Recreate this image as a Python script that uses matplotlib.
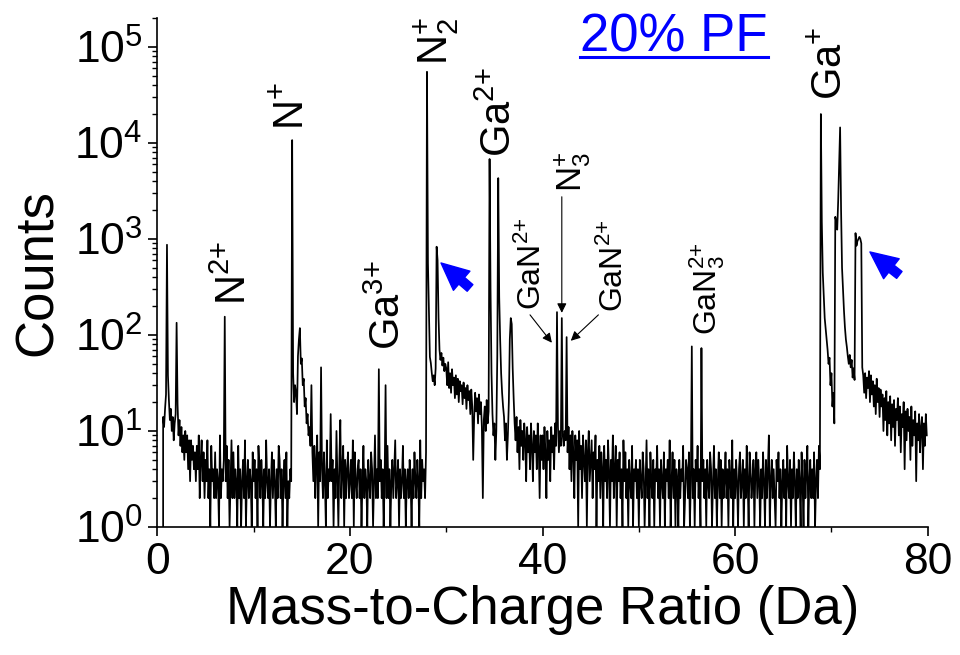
import numpy as np
import matplotlib
matplotlib.use("Agg")
import matplotlib.pyplot as plt
from matplotlib.ticker import LogLocator, MultipleLocator, NullFormatter

plt.rcParams['font.family'] = ['Liberation Sans', 'DejaVu Sans']
plt.rcParams['mathtext.fontset'] = 'custom'
plt.rcParams['mathtext.rm'] = 'Liberation Sans'
plt.rcParams['mathtext.it'] = 'Liberation Sans'
plt.rcParams['mathtext.default'] = 'regular'

# ---------------- data (counts per 0.1 Da bin) ----------------
mz_step = 0.1
counts_00_10 = [0, 0, 0, 0, 0, 0, 14, 11, 17, 24,
                870, 38, 21, 13, 17, 10, 14, 8, 12, 15,
                134, 19, 9, 13, 7, 11, 6, 9, 5, 10,
                6, 9, 4, 8, 3, 8, 5, 7, 4, 6,
                3, 7, 4, 9, 2, 5, 8, 3, 6, 2,
                5, 3, 8, 2, 4, 1, 7, 3, 4, 2,
                6, 2, 4, 3, 1, 9, 2, 4, 3, 5,
                155, 3, 7, 2, 5, 1, 3, 8, 2, 6,
                2, 4, 3, 1, 7, 2, 4, 1, 3, 5,
                2, 8, 1, 3, 5, 2, 4, 3, 1, 6]
counts_10_20 = [3, 5, 2, 4, 1, 7, 4, 2, 5, 3,
                1, 4, 2, 8, 3, 2, 4, 1, 3, 6,
                2, 5, 3, 1, 4, 2, 7, 5, 2, 4,
                1, 3, 5, 2, 6, 1, 3, 2, 4, 3,
                10700, 40, 20, 30, 25, 15, 60, 90, 118, 50,
                57, 30, 35, 18, 22, 12, 15, 9, 11, 7,
                30, 6, 3, 7, 2, 5, 9, 1, 6, 3,
                46, 4, 2, 6, 3, 1, 8, 2, 4, 3,
                15, 3, 5, 1, 4, 2, 10, 3, 1, 5,
                13, 2, 4, 7, 1, 5, 2, 4, 6, 2]
counts_20_30 = [3, 5, 2, 8, 1, 6, 3, 2, 4, 5,
                2, 4, 1, 3, 7, 2, 4, 3, 1, 5,
                3, 2, 6, 4, 1, 3, 9, 2, 4, 2,
                44, 3, 5, 2, 4, 1, 3, 30, 2, 7,
                2, 4, 1, 3, 5, 2, 4, 8, 2, 3,
                5, 1, 4, 2, 3, 7, 2, 4, 1, 3,
                4, 2, 5, 3, 1, 4, 2, 6, 3, 2,
                5, 3, 1, 8, 2, 5, 3, 4, 2, 6,
                55000, 560, 182, 59, 51, 40, 33, 38, 30, 45,
                830, 600, 150, 70, 55, 65, 48, 58, 42, 50]
counts_30_40 = [45, 30, 52, 28, 40, 25, 44, 30, 36, 22,
                38, 24, 35, 20, 33, 26, 30, 19, 32, 22,
                28, 17, 30, 21, 26, 15, 27, 18, 5, 14,
                25, 16, 22, 12, 24, 15, 20, 11, 2, 13,
                18, 10, 21, 12, 16, 6800, 300, 40, 15, 9,
                12, 5, 10, 60, 4300, 250, 89, 40, 25, 18,
                14, 8, 12, 5, 9, 20, 90, 150, 130, 45,
                22, 12, 8, 14, 6, 11, 4, 13, 7, 10,
                5, 12, 8, 3, 11, 6, 9, 4, 12, 7,
                3, 10, 6, 9, 4, 12, 7, 2, 9, 5]
counts_40_50 = [9, 4, 11, 6, 2, 10, 5, 8, 3, 11,
                6, 9, 4, 12, 7, 173, 11, 6, 10, 7,
                150, 9, 7, 10, 8, 95, 6, 11, 4, 9,
                3, 10, 6, 2, 9, 5, 8, 1, 10, 4,
                7, 2, 9, 5, 3, 8, 1, 6, 10, 3,
                5, 8, 2, 6, 4, 9, 1, 5, 3, 7,
                2, 6, 4, 1, 7, 3, 5, 2, 8, 4,
                1, 5, 3, 9, 2, 4, 7, 1, 5, 3,
                6, 2, 4, 1, 8, 3, 6, 2, 4, 1,
                5, 3, 2, 7, 1, 4, 3, 5, 2, 4]
counts_50_60 = [1, 5, 3, 2, 6, 4, 1, 3, 8, 2,
                4, 1, 6, 3, 2, 5, 1, 4, 3, 7,
                2, 4, 1, 5, 3, 2, 6, 1, 4, 3,
                5, 2, 8, 1, 3, 6, 2, 5, 1, 4,
                3, 1, 5, 2, 4, 3, 7, 1, 2, 5,
                4, 2, 6, 1, 3, 76, 2, 4, 1, 5,
                3, 7, 2, 4, 1, 73, 3, 5, 2, 4,
                1, 5, 3, 2, 6, 4, 1, 3, 7, 2,
                4, 1, 3, 6, 2, 5, 1, 4, 2, 3,
                6, 2, 4, 1, 5, 3, 2, 8, 1, 4]
counts_60_70 = [2, 5, 3, 1, 4, 6, 2, 3, 5, 1,
                4, 2, 7, 3, 1, 6, 4, 2, 3, 5,
                1, 4, 6, 2, 5, 3, 1, 4, 2, 6,
                3, 1, 5, 2, 4, 9, 1, 3, 5, 2,
                4, 2, 1, 5, 3, 6, 2, 4, 1, 3,
                5, 2, 4, 1, 7, 3, 2, 5, 1, 4,
                2, 6, 3, 1, 4, 2, 5, 3, 1, 6,
                3, 1, 5, 2, 4, 7, 1, 3, 5, 2,
                4, 2, 6, 1, 3, 5, 2, 7, 4, 20000,
                1500, 445, 250, 150, 115, 90, 70, 50, 58, 30]
counts_70_80 = [40, 18, 25, 12, 1700, 1500, 1250, 2500, 6000, 14500,
                2000, 500, 295, 180, 120, 90, 75, 60, 50, 62,
                46, 55, 36, 45, 34, 1150, 850, 950, 1000, 1050,
                1000, 900, 46, 38, 25, 40, 22, 36, 28, 42,
                20, 38, 24, 33, 18, 30, 15, 35, 20, 28,
                14, 27, 18, 24, 10, 22, 13, 26, 9, 20,
                12, 23, 8, 19, 11, 21, 7, 17, 13, 22,
                9, 18, 6, 15, 11, 20, 4, 16, 8, 17,
                10, 14, 5, 18, 7, 13, 9, 16, 3, 12,
                8, 15, 6, 11, 14, 4, 12, 7, 15, 9]

counts = np.array(counts_00_10 + counts_10_20 + counts_20_30 + counts_30_40 +
                  counts_40_50 + counts_50_60 + counts_60_70 + counts_70_80, dtype=float)
mz = np.arange(len(counts)) * mz_step

# labels: (text, x, y, fontsize)
peak_labels = [
    (r'N$^{\text{2+}}$', 8.0, 205, 30),
    (r'N$^{\text{+}}$', 14.0, 13700, 30),
    (r'Ga$^{\text{3+}}$', 24.0, 70, 30),
    (r'N$_{2}^{\text{+}}$', 29.0, 65000, 30),
    (r'Ga$^{\text{2+}}$', 35.6, 7100, 30),
    (r'N$_{3}^{\text{+}}$', 43.1, 3100, 25),
    (r'GaN$^{\text{2+}}$', 38.9, 182, 23),
    (r'GaN$^{\text{2+}}$', 47.5, 173, 23),
    (r'GaN$_{3}^{\text{2+}}$', 57.1, 100, 23),
    (r'Ga$^{\text{+}}$', 69.9, 28000, 30),
]
black_arrows = [  # (tail x, tail y, tip x, tip y)
    (42.0, 2750, 42.0, 170),
    (38.7, 162, 40.97, 83),
    (45.8, 162, 42.93, 87),
]
blue_arrows = [
    (32.47, 309, 29.46, 562),
    (77.05, 422, 74.0, 732),
]

# ---------------- figure ----------------
fig = plt.figure(figsize=(9.6, 6.55), dpi=100)
ax = fig.add_axes([0.1639, 0.1954, 0.9664 - 0.1639, 0.9725 - 0.1954])
ax.plot(mz, counts, color='black', lw=1.25)
ax.set_yscale('log', nonpositive='clip')
ax.set_xlim(0, 80)
ax.set_ylim(1, 2.0e5)

for s in ['top', 'right']:
    ax.spines[s].set_visible(False)
for s in ['left', 'bottom']:
    ax.spines[s].set_linewidth(1.2)

ax.xaxis.set_major_locator(MultipleLocator(20))
ax.xaxis.set_minor_locator(MultipleLocator(10))
ax.yaxis.set_major_locator(LogLocator(base=10, numticks=10))
ax.yaxis.set_minor_locator(LogLocator(base=10, subs=np.arange(2, 10), numticks=20))
ax.yaxis.set_minor_formatter(NullFormatter())
ax.tick_params(which='major', direction='out', length=6.5, width=1.2, labelsize=32, pad=4)
ax.tick_params(which='minor', direction='out', length=3.3, width=1.0)

ax.set_xlabel('Mass-to-Charge Ratio (Da)', fontsize=38, labelpad=2)
ax.set_ylabel('Counts', fontsize=38, labelpad=8)

for txt, x, y, fs in peak_labels:
    ax.text(x, y, txt, rotation=90, ha='center', va='bottom', fontsize=fs)

for x0, y0, x1, y1 in black_arrows:
    ax.annotate('', xy=(x1, y1), xytext=(x0, y0),
                arrowprops=dict(arrowstyle='-|>', color='black', lw=0.8,
                                mutation_scale=14, shrinkA=0, shrinkB=0))
for x0, y0, x1, y1 in blue_arrows:
    ax.annotate('', xy=(x1, y1), xytext=(x0, y0),
                arrowprops=dict(arrowstyle='simple,head_width=1.3,head_length=1.4,tail_width=0.45',
                                color='#0000FF', mutation_scale=14, shrinkA=0, shrinkB=0))

t = fig.text(580 / 960, 1 - 52 / 655, '20% PF', color='#0000FF', fontsize=38,
             ha='left', va='baseline')
fig.canvas.draw()
bb = t.get_window_extent()
fig.add_artist(plt.Line2D([bb.x0 / 960, bb.x1 / 960], [1 - 57 / 655, 1 - 57 / 655],
                          color='#0000FF', lw=2.2, transform=fig.transFigure))

fig.savefig('out.png', dpi=100)
